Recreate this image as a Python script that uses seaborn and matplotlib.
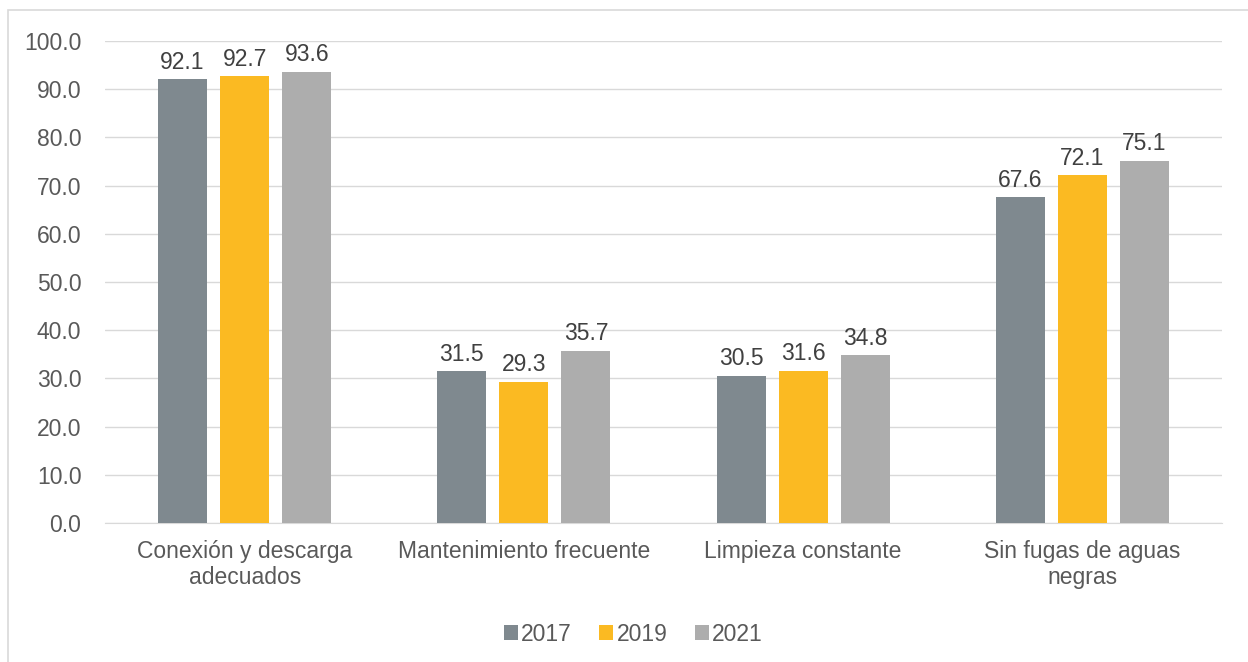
import matplotlib
matplotlib.use("Agg")
import matplotlib.pyplot as plt
import pandas as pd
import seaborn as sns
from matplotlib.patches import Rectangle

categories = [
    "Conexión y descarga\nadecuados",
    "Mantenimiento frecuente",
    "Limpieza constante",
    "Sin fugas de aguas\nnegras",
]
years = ["2017", "2019", "2021"]
values_2017 = [92.1, 31.5, 30.5, 67.6]
values_2019 = [92.7, 29.3, 31.6, 72.1]
values_2021 = [93.6, 35.7, 34.8, 75.1]
colors = ["#7F898F", "#FBBA22", "#ADADAD"]

df = pd.DataFrame({
    "categoria": categories * 3,
    "anio": [y for y in years for _ in categories],
    "valor": values_2017 + values_2019 + values_2021,
})

sns.set_style("white")
plt.rcParams["font.family"] = ["Liberation Sans", "DejaVu Sans"]
text_color = "#595959"
fs = 16.5

fig = plt.figure(figsize=(12.48, 6.62), dpi=100)
ax = fig.add_axes([105 / 1248, 139 / 662, 1117 / 1248, 482 / 662])

sns.barplot(data=df, x="categoria", y="valor", hue="anio", palette=colors,
            saturation=1, width=0.667, gap=0.21, linewidth=0, ax=ax, zorder=3)

for container in ax.containers:
    ax.bar_label(container, fmt="%.1f", padding=4, fontsize=fs, color="#404040")

ax.set_ylim(0, 100)
ax.set_yticks(range(0, 101, 10))
ax.set_yticklabels([f"{v:.1f}" for v in range(0, 101, 10)])
ax.yaxis.grid(True, color="#D9D9D9", linewidth=1, zorder=0)
ax.set_axisbelow(True)
for s in ["left", "right", "top"]:
    ax.spines[s].set_visible(False)
ax.spines["bottom"].set_color("#D9D9D9")
ax.tick_params(axis="y", length=0, labelsize=fs, labelcolor=text_color, pad=17)
ax.tick_params(axis="x", length=0, labelsize=fs, labelcolor=text_color, pad=12)
ax.set_xlabel("")
ax.set_ylabel("")

ax.legend(loc="upper center", bbox_to_anchor=(0.473, -0.164), ncol=3, frameon=False,
          fontsize=fs, labelcolor=text_color, handlelength=0.6, handleheight=0.6,
          handletextpad=0.15, columnspacing=1.2)

fig.patches.append(Rectangle((8 / 1248, -0.1), 1.1, (652 / 662) + 0.1,
                             transform=fig.transFigure, fill=False,
                             edgecolor="#D9D9D9", linewidth=1.2))

fig.savefig("out.png", dpi=100)
plt.close(fig)
